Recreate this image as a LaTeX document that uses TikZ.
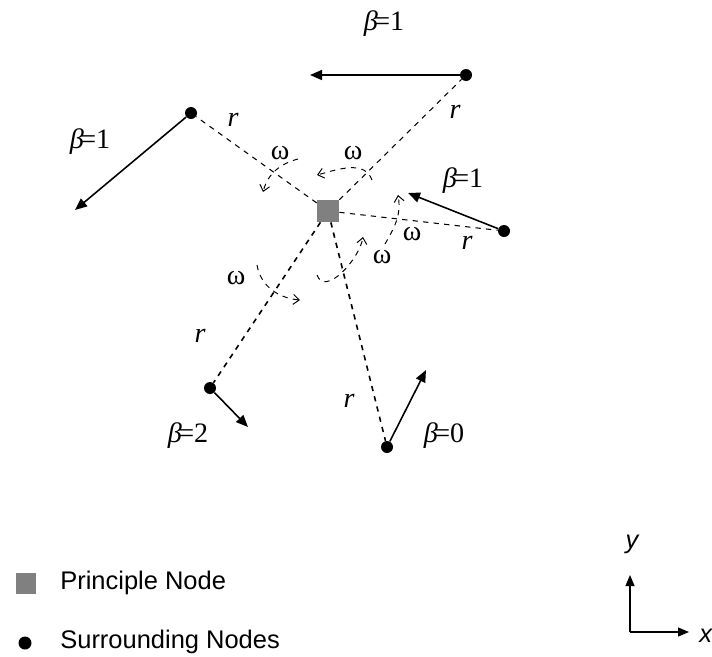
\documentclass[tikz,border=0pt]{standalone}
\usepackage{fontspec}
\setmainfont{Liberation Serif}
\setsansfont{Liberation Sans}
\usetikzlibrary{arrows.meta}
\definecolor{NodeGray}{HTML}{808080}
\tikzset{
  pnode/.style={rectangle, fill=NodeGray, minimum size=0.44cm, inner sep=0pt},
  snode/.style={circle, fill=black, minimum size=0.24cm, inner sep=0pt},
  link/.style={dashed, line width=0.6pt},
  link2/.style={dashed, line width=0.9pt},
  move/.style={-{Triangle[length=2.4mm,width=2mm]}, line width=0.9pt},
  turn/.style={dashed, line width=0.55pt, -{Straight Barb[length=1.2mm,width=2mm]}},
  lbl/.style={font=\fontsize{16}{18}\selectfont, inner sep=1pt},
  leg/.style={font=\sffamily\fontsize{14.5}{17}\selectfont, anchor=west, inner sep=0pt},
  axlbl/.style={font=\sffamily\itshape\fontsize{14.5}{17}\selectfont, inner sep=0pt},
  ax/.style={-{Triangle[length=2.2mm,width=1.8mm]}, semithick},
}
\newcommand{\bet}[1]{{\itshape β}\kern-2pt=#1}

\begin{document}
\begin{tikzpicture}[x=0.02cm, y=-0.02cm]
  \useasboundingbox (0,0) rectangle (712,656);

  \node[pnode] (p) at (328,211) {};
  \node[snode] (tr) at (466,75)  {};
  \node[snode] (tl) at (191,113) {};
  \node[snode] (rt) at (504,231) {};
  \node[snode] (bl) at (210,388) {};
  \node[snode] (bt) at (387,447) {};

  \draw[link]  (p) -- (tr);
  \draw[link]  (p) -- (tl);
  \draw[link]  (p) -- (rt);
  \draw[link2] (p) -- (bl);
  \draw[link2] (p) -- (bt);

  \coordinate (trv) at (310,75);
  \coordinate (tlv) at (75,210);
  \coordinate (rtv) at (408,193);
  \coordinate (blv) at (248,427);
  \coordinate (btv) at (426,370);
  \draw[move] (tr) -- (trv);
  \draw[move] (tl) -- (tlv);
  \draw[move] (rt) -- (rtv);
  \draw[move] (bl) -- (blv);
  \draw[move] (bt) -- (btv);

  \node[lbl] (btr) at (384,24)  {\bet{1}};
  \node[lbl] (btl) at (90,142)  {\bet{1}};
  \node[lbl] (brt) at (463,181) {\bet{1}};
  \node[lbl] (bbl) at (188,436) {\bet{2}};
  \node[lbl] (bbt) at (444,436) {\bet{0}};

  \node[lbl] (rtr) at (455,112) {\itshape r};
  \node[lbl] (rtl) at (233,120) {\itshape r};
  \node[lbl] (rrt) at (467,243) {\itshape r};
  \node[lbl] (rbl) at (200,336) {\itshape r};
  \node[lbl] (rbt) at (349,401) {\itshape r};

  \node[lbl] (w1) at (280,153) {ω};
  \node[lbl] (w2) at (353,153) {ω};
  \node[lbl] (w3) at (412,234) {ω};
  \node[lbl] (w4) at (382,257) {ω};
  \node[lbl] (w5) at (236,278) {ω};

  \coordinate (a1) at (298,159);
  \coordinate (b1) at (263,192);
  \coordinate (a2) at (372,180);
  \coordinate (b2) at (317,175);
  \coordinate (a3) at (385,244);
  \coordinate (b3) at (398,195);
  \coordinate (a4) at (317,275);
  \coordinate (b4) at (363,237);
  \coordinate (a5) at (257,265);
  \coordinate (b5) at (300,300);
  \draw[turn] (a1) to[out=195, in=75] (b1);
  \draw[turn] (a2) to[out=110, in=15] (b2);
  \draw[turn] (a3) to[out=60, in=-80] (b3);
  \draw[turn] (a4) to[out=-70, in=-100] (b4);
  \draw[turn] (a5) to[out=-80, in=175] (b5);

  \node[pnode, minimum size=0.42cm] (lp) at (26,583) {};
  \node[leg] (lpt) at (60,583) {Principle Node};
  \node[snode, minimum size=0.26cm] (ls) at (25,643) {};
  \node[leg] (lst) at (60,642) {Surrounding Nodes};

  \coordinate (o) at (630,632);
  \coordinate (oy) at (630,575);
  \coordinate (ox) at (689,632);
  \draw[ax] (o) -- (oy);
  \draw[ax] (o) -- (ox);
  \node[axlbl] (ly) at (632,544) {y};
  \node[axlbl, anchor=west] (lx) at (699,636) {x};
\end{tikzpicture}
\end{document}
